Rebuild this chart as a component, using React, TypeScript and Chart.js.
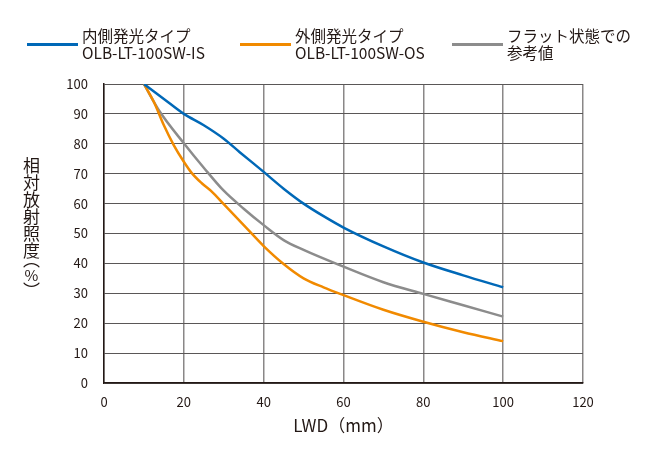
import React, { useEffect, useRef } from "react";
import { Chart, registerables } from "chart.js";

Chart.register(...registerables);

const seriesNames = [
  ["内側発光タイプ", "OLB-LT-100SW-IS"],
  ["外側発光タイプ", "OLB-LT-100SW-OS"],
  ["フラット状態での", "参考値"],
];
const seriesColors = ["#0068b7", "#f18a00", "#8c8c8c"];

const blueX = [10, 15, 20, 25, 30, 34, 40, 45, 50, 55, 60, 70, 80, 90, 100];
const blueY = [100, 95, 90, 86.2, 81.7, 77.2, 70.6, 65, 60, 55.8, 52, 45.7, 40.3, 36, 32];

const orangeX = [10, 12.5, 15, 17.5, 20, 22, 24.5, 27, 30, 35, 40, 45, 50, 55, 60, 70, 80, 90, 100];
const orangeY = [100, 94, 86.2, 79.5, 74, 70.2, 66.8, 64, 59.8, 52.8, 45.8, 39.8, 35, 32, 29.4, 24.5, 20.5, 17, 14];

const grayX = [10, 14, 20, 25, 30, 35, 40, 45, 50, 60, 70, 80, 90, 100];
const grayY = [100, 90.7, 80.2, 72, 64.3, 58.3, 52.8, 47.8, 44.5, 38.9, 33.7, 29.8, 26, 22.2];

const xTitle = "LWD（mm）";
const yTitleMain = "相対放射照度";
const yTitleUnit = ["（", "%", "）"];

const toPoints = (xs: number[], ys: number[]) => xs.map((x, i) => ({ x, y: ys[i] }));

const FONT = "'Noto Sans CJK JP', 'Noto Sans', sans-serif";

export default function App() {
  const ref = useRef<HTMLCanvasElement | null>(null);

  useEffect(() => {
    document.body.style.margin = "0";
    const ctx = ref.current!.getContext("2d")!;
    const mk = (label: string, xs: number[], ys: number[], color: string) => ({
      label,
      data: toPoints(xs, ys),
      borderColor: color,
      backgroundColor: color,
      borderWidth: 2.5,
      pointRadius: 0,
      cubicInterpolationMode: "monotone" as const,
      fill: false,
    });
    const chart = new Chart(ctx, {
      type: "line",
      data: {
        datasets: [
          mk(seriesNames[0].join(" "), blueX, blueY, seriesColors[0]),
          mk(seriesNames[1].join(" "), orangeX, orangeY, seriesColors[1]),
          mk(seriesNames[2].join(" "), grayX, grayY, seriesColors[2]),
        ],
      },
      options: {
        animation: false,
        responsive: false,
        layout: { padding: { left: 0, right: 67, top: 84, bottom: 0 } },
        plugins: { legend: { display: false }, tooltip: { enabled: false } },
        scales: {
          x: {
            type: "linear",
            min: 0,
            max: 120,
            ticks: { stepSize: 20, padding: 11, color: "#231815", font: { family: FONT, size: 13 } },
            grid: { color: "#8a8787", lineWidth: 1.5, drawTicks: false },
            border: { display: true, color: "#231815", width: 1.5 },
            title: {
              display: true,
              text: xTitle,
              color: "#231815",
              font: { family: FONT, size: 17 },
              padding: { top: 0, bottom: 14 },
            },
            afterFit: (s: any) => {
              s.height = 67;
            },
          },
          y: {
            type: "linear",
            min: 0,
            max: 100,
            ticks: { stepSize: 10, padding: 16, color: "#231815", font: { family: FONT, size: 13 } },
            grid: { color: "#5a5757", lineWidth: 1, drawTicks: false },
            border: { display: true, color: "#231815", width: 1.5 },
            afterFit: (s: any) => {
              s.width = 104;
            },
          },
        },
      },
    });
    return () => chart.destroy();
  }, []);

  return (
    <div style={{ position: "relative", width: 650, height: 450, fontFamily: FONT, color: "#231815" }}>
      <canvas ref={ref} width={650} height={450} style={{ position: "absolute", left: 0, top: 0 }} />
      {[27, 240, 452].map((left, i) => (
        <div key={i} style={{ position: "absolute", left, top: 27, display: "flex", alignItems: "center" }}>
          <div style={{ width: 51, height: 3, background: seriesColors[i], marginRight: 4 }} />
          <div style={{ fontSize: 15.5, lineHeight: "17px" }}>
            <div>{seriesNames[i][0]}</div>
            <div>{seriesNames[i][1]}</div>
          </div>
        </div>
      ))}
      <div
        style={{
          position: "absolute",
          left: 21,
          top: 157,
          writingMode: "vertical-rl",
          fontSize: 17,
          lineHeight: "20px",
        }}
      >
        {yTitleMain}
        <span style={{ fontFeatureSettings: '"vpal"' }}>{yTitleUnit[0]}</span>
        <span style={{ textOrientation: "upright", fontSize: 15 }}>{yTitleUnit[1]}</span>
        <span style={{ fontFeatureSettings: '"vpal"' }}>{yTitleUnit[2]}</span>
      </div>
    </div>
  );
}
